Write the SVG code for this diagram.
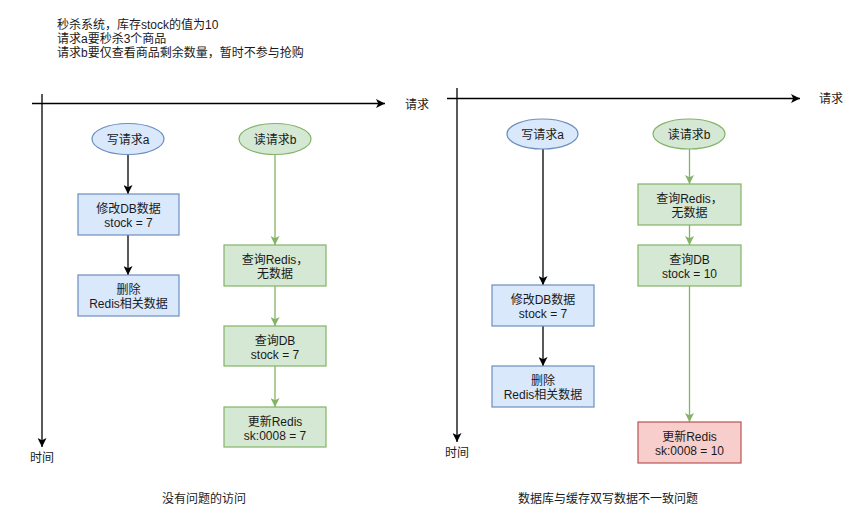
<svg xmlns="http://www.w3.org/2000/svg" width="866" height="531" viewBox="0 0 866 531">
<style>
text{font-family:"Liberation Sans","Noto Sans CJK SC",sans-serif;font-size:12px;fill:#1a1a1a}
.c{text-anchor:middle}
.blue{fill:#dae8fc;stroke:#6c8ebf;stroke-width:1.2}
.green{fill:#d5e8d4;stroke:#82b366;stroke-width:1.2}
.red{fill:#f8cecc;stroke:#b85450;stroke-width:1.2}
.k{stroke:#000;stroke-width:1.3;fill:none;marker-end:url(#ak)}
.g{stroke:#82b366;stroke-width:1.3;fill:none;marker-end:url(#ag)}
</style>
<defs>
<marker id="ak" viewBox="0 0 10 10" refX="10" refY="5" markerUnits="userSpaceOnUse" markerWidth="9" markerHeight="9" orient="auto"><path d="M0,0 L10,5 L0,10 L2.5,5 Z" fill="#000"/></marker>
<marker id="ag" viewBox="0 0 10 10" refX="10" refY="5" markerUnits="userSpaceOnUse" markerWidth="9" markerHeight="9" orient="auto"><path d="M0,0 L10,5 L0,10 L2.5,5 Z" fill="#82b366"/></marker>
</defs>
<rect width="866" height="531" fill="#fff"/>
<g id="intro">
<text x="57" y="29">秒杀系统，库存stock的值为10</text>
<text x="57" y="43">请求a要秒杀3个商品</text>
<text x="57" y="57">请求b要仅查看商品剩余数量，暂时不参与抢购</text>
</g>
<g id="connectors">
<line class="k" x1="32" y1="103.5" x2="385" y2="103.5"/>
<line class="k" x1="42" y1="94" x2="42" y2="447"/>
<line class="k" x1="128" y1="154" x2="128" y2="194"/>
<line class="k" x1="128" y1="235" x2="128" y2="275"/>
<line class="g" x1="275" y1="154" x2="275" y2="245"/>
<line class="g" x1="275" y1="286" x2="275" y2="326"/>
<line class="g" x1="275" y1="366" x2="275" y2="407"/>
<line class="k" x1="447" y1="98.5" x2="800" y2="98.5"/>
<line class="k" x1="457" y1="88" x2="457" y2="442"/>
<line class="k" x1="543" y1="149" x2="543" y2="285"/>
<line class="k" x1="543" y1="326" x2="543" y2="366"/>
<line class="g" x1="689.5" y1="149" x2="689.5" y2="184"/>
<line class="g" x1="689.5" y1="225" x2="689.5" y2="245"/>
<line class="g" x1="689.5" y1="286" x2="689.5" y2="422"/>
</g>
<g id="axis-labels">
<text x="405" y="108.5">请求</text>
<text class="c" x="42" y="462">时间</text>
<text x="819" y="103">请求</text>
<text class="c" x="457" y="457">时间</text>
</g>
<g id="L-write-a"><ellipse class="blue" cx="128" cy="139" rx="36" ry="15.5"/><text class="c" x="128" y="143.5">写请求a</text></g>
<g id="L-read-b"><ellipse class="green" cx="275" cy="139" rx="36" ry="15.5"/><text class="c" x="275" y="143.5">读请求b</text></g>
<g id="L-modify-db"><rect class="blue" x="78" y="194" width="101" height="41"/><text class="c" x="128.5" y="212.8">修改DB数据</text><text class="c" x="128.5" y="226.8">stock = 7</text></g>
<g id="L-delete-redis"><rect class="blue" x="78" y="275" width="101" height="41"/><text class="c" x="128.5" y="293.8">删除</text><text class="c" x="128.5" y="307.8">Redis相关数据</text></g>
<g id="L-query-redis"><rect class="green" x="224" y="245" width="102" height="41"/><text class="c" x="275" y="263.8">查询Redis，</text><text class="c" x="275" y="277.8">无数据</text></g>
<g id="L-query-db"><rect class="green" x="224" y="326" width="102" height="40"/><text class="c" x="275" y="344.5">查询DB</text><text class="c" x="275" y="358.5">stock = 7</text></g>
<g id="L-update-redis"><rect class="green" x="224" y="407" width="102" height="40"/><text class="c" x="275" y="425.5">更新Redis</text><text class="c" x="275" y="439.5">sk:0008 = 7</text></g>
<g id="R-write-a"><ellipse class="blue" cx="542.5" cy="134" rx="35.5" ry="15"/><text class="c" x="542.5" y="138.5">写请求a</text></g>
<g id="R-read-b"><ellipse class="green" cx="689" cy="134" rx="36" ry="15"/><text class="c" x="689" y="138.5">读请求b</text></g>
<g id="R-query-redis"><rect class="green" x="638" y="184" width="103" height="41"/><text class="c" x="689.5" y="202.8">查询Redis，</text><text class="c" x="689.5" y="216.8">无数据</text></g>
<g id="R-query-db"><rect class="green" x="638" y="245" width="103" height="41"/><text class="c" x="689.5" y="263.8">查询DB</text><text class="c" x="689.5" y="277.8">stock = 10</text></g>
<g id="R-modify-db"><rect class="blue" x="492" y="285" width="102" height="41"/><text class="c" x="543" y="303.8">修改DB数据</text><text class="c" x="543" y="317.8">stock = 7</text></g>
<g id="R-delete-redis"><rect class="blue" x="492" y="366" width="102" height="41"/><text class="c" x="543" y="384.8">删除</text><text class="c" x="543" y="398.8">Redis相关数据</text></g>
<g id="R-update-redis"><rect class="red" x="638" y="422" width="103" height="41"/><text class="c" x="689.5" y="440.8">更新Redis</text><text class="c" x="689.5" y="454.8">sk:0008 = 10</text></g>
<g id="captions">
<text class="c" x="204" y="502.5">没有问题的访问</text>
<text class="c" x="608" y="502.5">数据库与缓存双写数据不一致问题</text>
</g>
</svg>
